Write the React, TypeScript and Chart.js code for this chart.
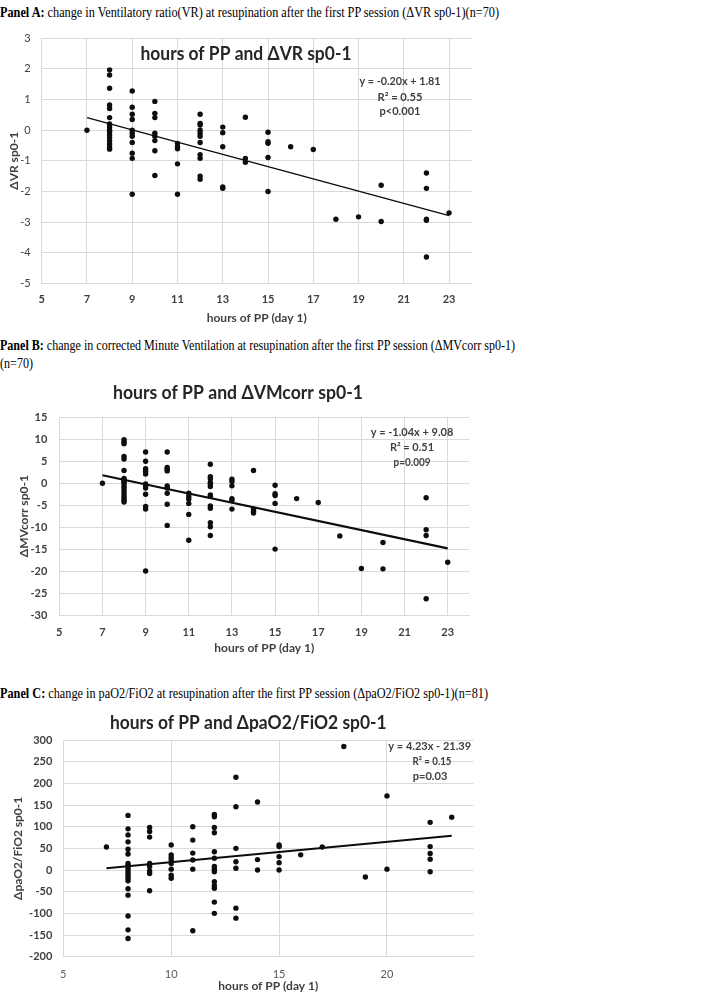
import React, { useEffect, useLayoutEffect, useRef } from "react";
import { Chart, registerables } from "chart.js";

Chart.register(...registerables);

// ---------------- Panel A : hours of PP vs ΔVR sp0-1 ----------------
const hoursA = [7, 8, 9, 10, 11, 12, 13, 14, 15, 16, 17, 18, 19, 20, 22, 23];
const dvrA = [
  [0],
  [1.97, 1.8, 1.37, 0.82, 0.71, 0.41, 0.2, 0.1, 0.0, -0.05, -0.15, -0.25, -0.35, -0.45, -0.55, -0.62],
  [1.28, 0.75, 0.52, 0.35, 0, -0.1, -0.2, -0.4, -0.75, -0.92, -2.09],
  [0.94, 0.55, 0.41, -0.1, -0.2, -0.34, -0.67, -1.48],
  [-0.43, -0.54, -0.61, -1.1, -2.09],
  [0.52, 0.22, 0.17, 0, -0.1, -0.2, -0.4, -0.8, -0.92, -1.5, -1.6],
  [0.1, -0.08, -0.54, -1.85, -1.9],
  [0.42, -0.92, -1.05],
  [-0.07, -0.38, -0.43, -0.89, -2.0],
  [-0.54],
  [-0.63],
  [-2.91],
  [-2.83],
  [-1.8, -2.98],
  [-1.4, -1.9, -2.91, -2.94, -4.14],
  [-2.7],
];
const trendHoursA = [7, 23];
const trendValuesA = [0.41, -2.79];
const xTicksA = [5, 7, 9, 11, 13, 15, 17, 19, 21, 23];
const eqA = ["y = -0.20x + 1.81", "R² = 0.55", "p<0.001"];

// ---------------- Panel B : hours of PP vs ΔMVcorr sp0-1 ----------------
const hoursB = [7, 8, 9, 10, 11, 12, 13, 14, 15, 16, 17, 18, 19, 20, 22, 23];
const dmvB = [
  [0],
  [9.9, 9.4, 9.0, 6.1, 5.5, 2.9, 1.1, 0.75, 0.4, 0, -0.6, -1.1, -1.7, -2.3, -2.9, -3.4, -3.9, -4.3],
  [7.1, 5.0, 3.3, 2.7, 2.1, -0.15, -0.6, -1.1, -2.5, -5.3, -5.9, -20],
  [7.1, 3.6, 3.2, 2.8, -0.6, -1.1, -2.3, -4.8, -9.6],
  [-2.3, -3.0, -3.6, -4.6, -7.1, -13],
  [4.3, 1.5, 1.0, 0.15, -0.2, -0.75, -2.7, -3.0, -5.2, -5.7, -9, -9.9, -11.9],
  [0.9, 0.4, -0.6, -3.5, -3.9, -5.9],
  [2.9, -5.9, -6.4, -6.8],
  [-0.45, -2.4, -2.8, -4.6, -15],
  [-3.5],
  [-4.4],
  [-12],
  [-19.4],
  [-13.5, -19.5],
  [-3.3, -10.6, -11.9, -26.3],
  [-18],
];
const trendHoursB = [7, 23];
const trendValuesB = [1.8, -14.84];
const xTicksB = [5, 7, 9, 11, 13, 15, 17, 19, 21, 23];
const eqB = ["y = -1.04x + 9.08", "R² = 0.51", "p=0.009"];

// ---------------- Panel C : hours of PP vs ΔpaO2/FiO2 sp0-1 ----------------
const hoursC = [7, 8, 9, 10, 11, 12, 13, 14, 15, 16, 17, 18, 19, 20, 22, 23];
const dpfC = [
  [53],
  [126, 95, 81, 65, 48, 37, 15, 10, 4, -2, -8, -13, -19, -25, -43, -58, -106, -138, -158],
  [98, 89, 76, 15, 8, -2, -8, -48],
  [58, 35, 29, 23, 15, 2, -12, -19],
  [100, 69, 39, 23, 2, -140],
  [128, 123, 98, 86, 42, 27, 8, 2, -4, -27, -36, -42, -74, -100],
  [214, 146, 50, 19, 4, -88, -111],
  [157, 24, 0],
  [58, 54, 31, 17, 0],
  [35],
  [53],
  [285],
  [-16],
  [171, 2],
  [110, 54, 38, 25, -4],
  [122],
];
const trendHoursC = [7, 23];
const trendValuesC = [4, 79];
const xTicksC = [5, 10, 15, 20];
const eqC = ["y = 4.23x - 21.39", "R² = 0.15", "p=0.03"];

const xTitle = "hours of PP (day 1)";

// ---------------------------------------------------------------------
const FONT = "Lato, 'Open Sans', sans-serif";

type Pt = { x: number; y: number };
type TextItem = { text: string; x: number; y: number; font: string; color: string; width?: number };

const toPoints = (hours: number[], vals: number[][]): Pt[] =>
  hours.flatMap((h, i) => vals[i].map((v) => ({ x: h, y: v })));
const toLine = (xs: number[], ys: number[]): Pt[] => xs.map((x, i) => ({ x, y: ys[i] }));

const textPlugin = {
  id: "panelText",
  afterDraw(chart: any, _args: any, opts: any) {
    const ctx = chart.ctx as CanvasRenderingContext2D;
    const items: TextItem[] = (opts && opts.items) || [];
    for (const t of items) {
      ctx.save();
      ctx.font = t.font;
      ctx.fillStyle = t.color;
      ctx.textAlign = "center";
      ctx.textBaseline = "middle";
      const w = ctx.measureText(t.text).width;
      const sx = t.width ? t.width / w : 1;
      ctx.translate(t.x, t.y);
      ctx.scale(sx, 1);
      ctx.fillText(t.text, 0, 0);
      ctx.restore();
    }
  },
};

type PanelCfg = {
  top: number;
  width: number;
  height: number;
  plot: { l: number; t: number; r: number; b: number };
  points: Pt[];
  trend: Pt[];
  trendWidth: number;
  x: { min: number; max: number; ticks: number[]; bold: boolean; color: string; pad: number; titlePad: number };
  y: { min: number; max: number; step: number; bold: boolean; pad: number; title: string; titlePad: number };
  texts: TextItem[];
};

function ScatterPanel({ cfg }: { cfg: PanelCfg }) {
  const ref = useRef<HTMLCanvasElement>(null);
  useEffect(() => {
    const { plot, width, height } = cfg;
    const chart = new Chart(ref.current as HTMLCanvasElement, {
      type: "scatter",
      data: {
        datasets: [
          {
            data: cfg.points,
            backgroundColor: "#0d0d0d",
            borderColor: "#0d0d0d",
            borderWidth: 0,
            pointRadius: 2.7,
            pointHoverRadius: 2.7,
          } as any,
          {
            data: cfg.trend,
            showLine: true,
            borderColor: "#0d0d0d",
            borderWidth: cfg.trendWidth,
            pointRadius: 0,
            pointHoverRadius: 0,
            fill: false,
          } as any,
        ],
      },
      options: {
        responsive: false,
        animation: false,
        events: [],
        layout: { padding: { left: 0, top: plot.t, right: width - plot.r, bottom: 0 } },
        plugins: {
          legend: { display: false },
          tooltip: { enabled: false },
          title: { display: false },
          panelText: { items: cfg.texts },
        } as any,
        scales: {
          x: {
            type: "linear",
            position: "bottom",
            min: cfg.x.min,
            max: cfg.x.max,
            afterBuildTicks: (s: any) => {
              s.ticks = cfg.x.ticks.map((v) => ({ value: v }));
            },
            ticks: {
              padding: cfg.x.pad,
              maxRotation: 0,
              autoSkip: false,
              color: cfg.x.color,
              font: { family: FONT, size: 11, weight: cfg.x.bold ? "bold" : "normal" },
            },
            grid: { color: "#d9d9d9", drawTicks: false, lineWidth: 1 },
            border: { color: "#d9d9d9" },
            title: {
              display: true,
              text: xTitle,
              color: "#404040",
              font: { family: FONT, size: 12, weight: "bold" },
              padding: { top: 0, bottom: cfg.x.titlePad },
            },
            afterFit: (s: any) => {
              s.height = height - plot.b;
            },
          } as any,
          y: {
            type: "linear",
            position: "left",
            min: cfg.y.min,
            max: cfg.y.max,
            ticks: {
              stepSize: cfg.y.step,
              padding: cfg.y.pad,
              autoSkip: false,
              color: "#404040",
              font: { family: FONT, size: 11, weight: cfg.y.bold ? "bold" : "normal" },
            },
            grid: { color: "#d9d9d9", drawTicks: false, lineWidth: 1 },
            border: { color: "#d9d9d9" },
            title: {
              display: true,
              text: cfg.y.title,
              color: "#404040",
              font: { family: FONT, size: 12, weight: "bold" },
              padding: { top: cfg.y.titlePad, bottom: 0 },
            },
            afterFit: (s: any) => {
              s.width = plot.l;
            },
          } as any,
        },
      },
      plugins: [textPlugin as any],
    });
    return () => chart.destroy();
  }, [cfg]);
  return (
    <div style={{ position: "absolute", left: 0, top: cfg.top, width: cfg.width, height: cfg.height }}>
      <canvas ref={ref} width={cfg.width} height={cfg.height} style={{ display: "block" }} />
    </div>
  );
}

function Caption({ top, width, children }: { top: number; width: number; children: React.ReactNode }) {
  const ref = useRef<HTMLDivElement>(null);
  useLayoutEffect(() => {
    const el = ref.current;
    if (!el) return;
    el.style.transform = "none";
    const w = el.getBoundingClientRect().width;
    if (w > 0) el.style.transform = `scaleX(${width / w})`;
  }, [width]);
  return (
    <div
      ref={ref}
      style={{
        position: "absolute",
        left: 0,
        top,
        whiteSpace: "nowrap",
        fontFamily: "'Liberation Serif', 'Times New Roman', serif",
        fontSize: 15,
        lineHeight: "18px",
        color: "#000",
        transformOrigin: "0 50%",
      }}
    >
      {children}
    </div>
  );
}

const eqFont = `bold 11px ${FONT}`;
const titleFont = `bold 19px ${FONT}`;

const panelA: PanelCfg = {
  top: 20,
  width: 500,
  height: 310,
  plot: { l: 41.7, t: 18.3, r: 471.7, b: 263.3 },
  points: toPoints(hoursA, dvrA),
  trend: toLine(trendHoursA, trendValuesA),
  trendWidth: 1.5,
  x: { min: 5, max: 24, ticks: xTicksA, bold: true, color: "#404040", pad: 10, titlePad: 4.8 },
  y: { min: -5, max: 3, step: 1, bold: false, pad: 11, title: "ΔVR sp0-1", titlePad: 6.8 },
  texts: [
    { text: "hours of PP and ΔVR sp0-1", x: 246, y: 34, font: titleFont, color: "#262626", width: 211 },
    { text: eqA[0], x: 400, y: 61, font: eqFont, color: "#404040", width: 81 },
    { text: eqA[1], x: 400, y: 77, font: eqFont, color: "#404040", width: 45 },
    { text: eqA[2], x: 400, y: 91, font: eqFont, color: "#404040", width: 41 },
  ],
};

const panelB: PanelCfg = {
  top: 380,
  width: 500,
  height: 275,
  plot: { l: 59.3, t: 37.3, r: 469.3, b: 235 },
  points: toPoints(hoursB, dmvB),
  trend: toLine(trendHoursB, trendValuesB),
  trendWidth: 2.2,
  x: { min: 5, max: 24, ticks: xTicksB, bold: true, color: "#404040", pad: 10.4, titlePad: 0 },
  y: { min: -30, max: 15, step: 5, bold: true, pad: 12, title: "ΔMVcorr sp0-1", titlePad: 16.8 },
  texts: [
    { text: "hours of PP and ΔVMcorr sp0-1", x: 238, y: 13, font: titleFont, color: "#262626", width: 250 },
    { text: eqB[0], x: 412, y: 52, font: eqFont, color: "#404040", width: 82.7 },
    { text: eqB[1], x: 412, y: 67, font: eqFont, color: "#404040", width: 44 },
    { text: eqB[2], x: 412, y: 82, font: eqFont, color: "#404040", width: 37 },
  ],
};

const panelC: PanelCfg = {
  top: 700,
  width: 500,
  height: 293,
  plot: { l: 63.3, t: 40, r: 473.3, b: 256.7 },
  points: toPoints(hoursC, dpfC),
  trend: toLine(trendHoursC, trendValuesC),
  trendWidth: 2,
  x: { min: 5, max: 24, ticks: xTicksC, bold: false, color: "#595959", pad: 10.7, titlePad: 0 },
  y: { min: -200, max: 300, step: 50, bold: true, pad: 11, title: "ΔpaO2/FiO2 sp0-1", titlePad: 11.1 },
  texts: [
    { text: "hours of PP and ΔpaO2/FiO2 sp0-1", x: 248.3, y: 23, font: titleFont, color: "#262626", width: 276.7 },
    { text: eqC[0], x: 429.7, y: 46.7, font: eqFont, color: "#404040", width: 82.7 },
    { text: eqC[1], x: 432, y: 61.7, font: eqFont, color: "#404040", width: 39 },
    { text: eqC[2], x: 430, y: 76.7, font: eqFont, color: "#404040", width: 34.7 },
  ],
};

export default function App() {
  return (
    <div style={{ position: "absolute", left: 0, top: 0, width: 710, height: 993, background: "#fff", overflow: "hidden" }}>
      <Caption top={3} width={499}>
        <b>Panel A:</b> change in Ventilatory ratio(VR) at resupination after the first PP session (ΔVR sp0-1)(n=70)
      </Caption>
      <ScatterPanel cfg={panelA} />
      <Caption top={336} width={515}>
        <b>Panel B:</b> change in corrected Minute Ventilation at resupination after the first PP session (ΔMVcorr sp0-1)
      </Caption>
      <Caption top={354} width={33}>
        (n=70)
      </Caption>
      <ScatterPanel cfg={panelB} />
      <Caption top={684} width={488}>
        <b>Panel C:</b> change in paO2/FiO2 at resupination after the first PP session (ΔpaO2/FiO2 sp0-1)(n=81)
      </Caption>
      <ScatterPanel cfg={panelC} />
    </div>
  );
}
